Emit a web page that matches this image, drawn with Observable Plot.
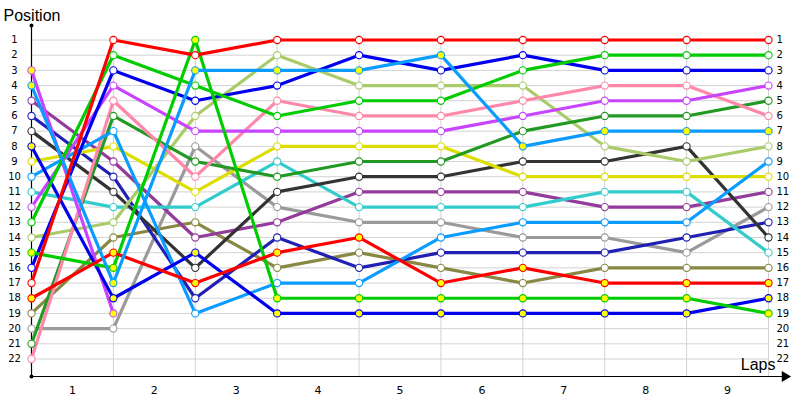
<!DOCTYPE html>
<html>
<head>
<meta charset="utf-8">
<script src="https://cdn.jsdelivr.net/npm/d3@7"></script>
<script src="https://cdn.jsdelivr.net/npm/@observablehq/plot@0.6"></script>
<style>
  html, body { margin: 0; padding: 0; background: #fff; }
</style>
</head>
<body>
<div id="chart"></div>
<script>
// Laps (0 = starting grid) and position ticks
const laps = [0, 1, 2, 3, 4, 5, 6, 7, 8, 9];
const lapLabels = [1, 2, 3, 4, 5, 6, 7, 8, 9];
const positionTicks = d3.range(1, 23);

// Position of each car after each lap (index = lap)
const redWhite      = [17, 1, 2, 1, 1, 1, 1, 1, 1, 1];
const greenWhite    = [13, 2, 4, 6, 5, 5, 3, 2, 2, 2];
const blueWhite     = [16, 3, 5, 4, 2, 3, 2, 3, 3, 3];
const pink          = [22, 5, 10, 5, 6, 6, 5, 4, 4, 6];
const magentaWhite  = [12, 4, 7, 7, 7, 7, 6, 5, 5, 4];
const darkGreen     = [21, 6, 9, 10, 9, 9, 7, 6, 6, 5];
const skyBlueYellow = [4, 17, 3, 3, 3, 2, 8, 7, 7, 7];
const lightOlive    = [14, 13, 6, 2, 4, 4, 4, 8, 9, 8];
const darkGray      = [7, 11, 16, 11, 10, 10, 9, 9, 8, 14];
const yellow        = [9, 8, 11, 8, 8, 8, 10, 10, 10, 10];
const purple        = [5, 9, 14, 13, 11, 11, 11, 12, 12, 11];
const gray          = [20, 20, 8, 12, 13, 13, 14, 14, 15, 12];
const indigo        = [6, 10, 18, 14, 16, 15, 15, 15, 14, 13];
const turquoise     = [11, 12, 12, 9, 12, 12, 12, 11, 11, 15];
const skyBlueWhite  = [10, 7, 19, 17, 17, 14, 13, 13, 13, 9];
const olive         = [19, 14, 13, 16, 15, 16, 17, 16, 16, 16];
const redYellow     = [18, 15, 17, 15, 14, 17, 16, 17, 17, 17];
const greenYellow   = [15, 16, 1, 18, 18, 18, 18, 18, 18, 19];
const blueYellow    = [8, 18, 15, 19, 19, 19, 19, 19, 19, 18];
const magentaYellow = [3, 19];

const seriesNames = ["Olive","Gray","Indigo","Purple","Turquoise","Dark gray","Yellow","Light olive",
  "Dark green","Pink","Sky blue (W)","Magenta (Y)","Magenta (W)","Blue (Y)","Blue (W)","Green (Y)",
  "Green (W)","Red (Y)","Sky blue (Y)","Red (W)"];
const seriesValues = [olive, gray, indigo, purple, turquoise, darkGray, yellow, lightOlive,
  darkGreen, pink, skyBlueWhite, magentaYellow, magentaWhite, blueYellow, blueWhite, greenYellow,
  greenWhite, redYellow, skyBlueYellow, redWhite];
const seriesColors = ["#888844","#9a9a9a","#2020b4","#933b9b","#33cccc","#333333","#dddd00","#a9cb6a",
  "#229922","#ff88aa","#0a9cff","#c844ff","#c844ff","#0000ee","#0000ee","#00cc00",
  "#00cc00","#ff0000","#0a9cff","#ff0000"];
const seriesFills = ["#fff","#fff","#fff","#fff","#fff","#fff","#fff","#fff",
  "#fff","#fff","#fff","#ffff00","#fff","#ffff00","#fff","#ffff00",
  "#fff","#ffff00","#ffff00","#fff"];

const rows = seriesNames.flatMap((name, s) =>
  seriesValues[s].map((p, lap) => ({name, lap, pos: p, color: seriesColors[s], fill: seriesFills[s]}))
);

const font = "'Liberation Sans', Arial, sans-serif";
const smallFont = "'DejaVu Sans', Verdana, sans-serif";

const chart = Plot.plot({
  width: 800,
  height: 400,
  marginLeft: 31,
  marginRight: 32,
  marginTop: 39.5,
  marginBottom: 24,
  x: {domain: [0, 9], axis: null},
  y: {domain: [1, 22], range: [39.5, 358.5], axis: null},
  color: {type: "identity"},
  style: {fontFamily: smallFont, fontSize: "10px", background: "#fff", overflow: "visible"},
  marks: [
    // grid
    Plot.ruleY(positionTicks, {x1: 0, x2: 9, stroke: "#d2d2d2", strokeWidth: 1}),
    Plot.ruleX(laps, {stroke: "#d2d2d2", strokeWidth: 1}),
    // y axis line with end dots
    Plot.ruleX([0], {y1: 1, y2: 22, insetTop: -14.5, insetBottom: -17.5, stroke: "#000", strokeWidth: 1.2}),
    Plot.dot([0], {x: 0, y: 1, dy: -14.5, r: 2, fill: "#000"}),
    Plot.dot([0], {x: 0, y: 22, dy: 17.5, r: 2, fill: "#000"}),
    // x axis line with arrow
    Plot.ruleY([22], {x1: 0, x2: 9.18, dy: 17.5, stroke: "#000", strokeWidth: 1.2}),
    Plot.dot([9.2], {x: d => d, y: 22, dy: 17.5, symbol: "triangle", rotate: 90, r: 4, fill: "#000"}),
    // tick labels
    Plot.text(positionTicks, {x: 0, y: d => d, dx: -17, text: d => String(d), textAnchor: "middle", fontSize: 10, fill: "#000"}),
    Plot.text(positionTicks, {x: 9, y: d => d, dx: 8, text: d => String(d), textAnchor: "start", fontSize: 10, fill: "#000"}),
    Plot.text(lapLabels, {x: d => d - 0.5, y: 22, dy: 31.5, text: d => String(d), fontSize: 11, fill: "#000"}),
    // axis titles
    Plot.text(["Position"], {x: 0, y: 1, dx: -28, dy: -24.5, text: d => d, textAnchor: "start", fontSize: 16, fontFamily: font, fill: "#000"}),
    Plot.text(["Laps"], {x: 9, y: 22, dx: 7, dy: 6, text: d => d, textAnchor: "end", fontSize: 16, fontFamily: font, fill: "#000"}),
    // series
    Plot.line(rows, {x: "lap", y: "pos", z: "name", stroke: "color", strokeWidth: 3.2, strokeLinejoin: "round"}),
    Plot.dot(rows, {x: "lap", y: "pos", r: 3.6, fill: "fill", stroke: "color", strokeWidth: 1.1})
  ]
});
document.getElementById("chart").appendChild(chart);
</script>
</body>
</html>
